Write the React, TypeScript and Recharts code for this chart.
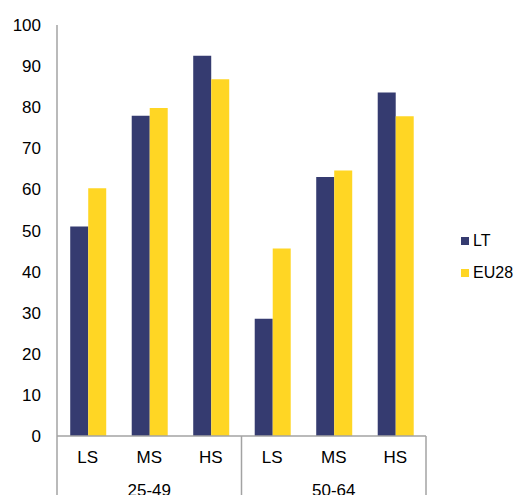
import { BarChart, Bar, XAxis, YAxis } from "recharts";

const categories = ["LS", "MS", "HS", "LS", "MS", "HS"];
const groups = ["25-49", "25-49", "25-49", "50-64", "50-64", "50-64"];
const lt = [51.0, 77.9, 92.5, 28.5, 63.0, 83.6];
const eu28 = [60.3, 79.8, 86.8, 45.6, 64.6, 77.8];
const yTicks = [0, 10, 20, 30, 40, 50, 60, 70, 80, 90, 100];

const C = {
  lt: "#353B70",
  eu: "#FFD624",
  axis: "#A3A3A3",
  text: "#000",
};

const W = 521;
const H = 520;
const M = { top: 25, right: 95, left: 0, bottom: 0 };
const Y_W = 57;
const PLOT_W = W - M.left - M.right - Y_W;
const BAND = PLOT_W / categories.length;
const FONT = "Liberation Sans, Arial, sans-serif";

const data = categories.map((c, i) => ({ cat: c, grp: groups[i], lt: lt[i], eu28: eu28[i] }));

function CatTick(props: any) {
  const { x, y, payload, index } = props;
  const i = index ?? payload.index;
  const left = x - BAND / 2;
  const right = x + BAND / 2;
  const firstOfGroup = i === 0 || groups[i] !== groups[i - 1];
  const lastOfAll = i === categories.length - 1;
  const midOfGroup = i > 0 && i < groups.length - 1 && groups[i - 1] === groups[i] && groups[i + 1] === groups[i];
  return (
    <g>
      <text x={x} y={y + 27} textAnchor="middle" fontSize={17} fontFamily={FONT} fill={C.text}>
        {payload.value}
      </text>
      {midOfGroup && (
        <text x={x} y={y + 60} textAnchor="middle" fontSize={17} fontFamily={FONT} fill={C.text}>
          {groups[i]}
        </text>
      )}
      {firstOfGroup && <line x1={left} x2={left} y1={y} y2={y + 90} stroke={C.axis} strokeWidth={1.5} />}
      {lastOfAll && <line x1={right} x2={right} y1={y} y2={y + 90} stroke={C.axis} strokeWidth={1.5} />}
    </g>
  );
}

function LegendBox() {
  const items = [
    { name: "LT", color: C.lt },
    { name: "EU28", color: C.eu },
  ];
  return (
    <div style={{ position: "absolute", left: 461, top: 230, fontFamily: FONT, fontSize: 16, color: C.text }}>
      {items.map((it) => (
        <div key={it.name} style={{ display: "flex", alignItems: "center", height: 22, marginBottom: 10 }}>
          <span style={{ width: 8, height: 8, background: it.color, display: "inline-block", marginRight: 4 }} />
          <span>{it.name}</span>
        </div>
      ))}
    </div>
  );
}

export default function App() {
  return (
    <div style={{ position: "absolute", left: 0, top: 0, width: W, height: 495, overflow: "hidden", background: "#fff" }}>
      <BarChart width={W} height={H} data={data} margin={M} barCategoryGap="21.5%" barGap={0}>
        <XAxis
          dataKey="cat"
          interval={0}
          height={H - M.top - M.bottom - 411}
          tickSize={0}
          tickMargin={0}
          tickLine={false}
          axisLine={{ stroke: C.axis, strokeWidth: 1.5 }}
          tick={<CatTick />}
        />
        <YAxis
          domain={[0, 100]}
          ticks={yTicks}
          width={Y_W}
          tickSize={0}
          tickMargin={16}
          tickLine={false}
          axisLine={{ stroke: C.axis, strokeWidth: 1.5 }}
          tick={{ fontSize: 17, fontFamily: FONT, fill: C.text }}
        />
        <Bar dataKey="lt" name="LT" fill={C.lt} isAnimationActive={false} />
        <Bar dataKey="eu28" name="EU28" fill={C.eu} isAnimationActive={false} />
      </BarChart>
      <LegendBox />
    </div>
  );
}
